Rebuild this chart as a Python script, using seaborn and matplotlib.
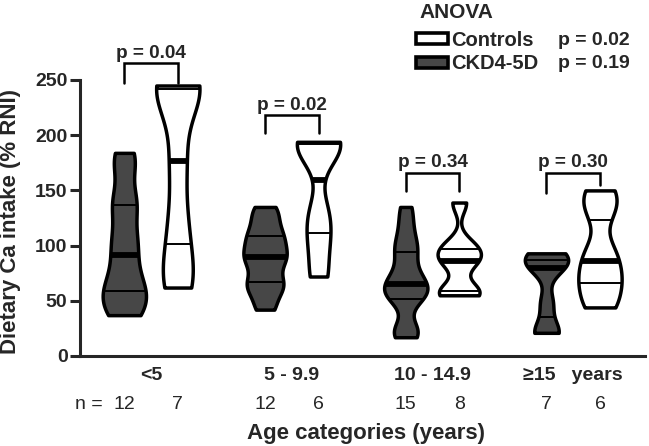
import numpy as np
import pandas as pd
import matplotlib
matplotlib.use("Agg")
import matplotlib.pyplot as plt
from matplotlib.patches import Patch
import seaborn as sns

# ---------- data (% RNI) ----------
age_groups = ["<5", "5 - 9.9", "10 - 14.9", "≥15   years"]
groups = ["CKD4-5D", "Controls"]

ckd_lt5 = [37, 42, 52, 61, 66, 84, 99, 112, 135, 143, 172, 184]
ckd_5_10 = [42, 55, 64, 68, 80, 88, 92, 100, 107, 114, 125, 135]
ckd_10_15 = [17, 21, 26, 50, 54, 58, 62, 65, 70, 78, 90, 98, 106, 120, 135]
ckd_ge15 = [21, 22, 48, 80, 85, 89, 93]

ctrl_lt5 = [62, 80, 122, 177, 240, 244, 245]
ctrl_5_10 = [72, 105, 130, 188, 193, 194]
ctrl_10_15 = [55, 57, 60, 84, 88, 96, 101, 139]
ctrl_ge15 = [44, 62, 77, 95, 132, 150]

ckd_values = [ckd_lt5, ckd_5_10, ckd_10_15, ckd_ge15]
ctrl_values = [ctrl_lt5, ctrl_5_10, ctrl_10_15, ctrl_ge15]

pair_p = ["p = 0.04", "p = 0.02", "p = 0.34", "p = 0.30"]
bracket_top = [265, 218, 166, 166]
bracket_left = [247, 202, 149, 148]
bracket_right = [247, 202, 149, 155]

anova_p = ["p = 0.02", "p = 0.19"]

gray = "#474747"
palette = {"CKD4-5D": gray, "Controls": "white"}

rows = []
for i, age in enumerate(age_groups):
    for v in ckd_values[i]:
        rows.append({"age": age, "group": "CKD4-5D", "intake": v})
    for v in ctrl_values[i]:
        rows.append({"age": age, "group": "Controls", "intake": v})
df = pd.DataFrame(rows)

sns.set_style("ticks")
plt.rcParams["font.family"] = ["Liberation Sans", "DejaVu Sans"]
plt.rcParams["font.weight"] = "bold"
plt.rcParams["axes.labelweight"] = "bold"

fig = plt.figure(figsize=(6.49, 4.46), dpi=100)
ax = fig.add_axes([80 / 649, 90 / 446, 565 / 649, 353.3 / 446])

sns.violinplot(data=df, x="age", y="intake", hue="group", order=age_groups,
               hue_order=groups, palette=palette, saturation=1, cut=0,
               inner=None, density_norm="width", bw_adjust=0.5, width=0.76,
               gap=0.19, linewidth=2.5, linecolor="black", legend=False, ax=ax)

# quartile lines, clipped to each violin body
for coll in list(ax.collections):
    path = coll.get_paths()[0]
    verts = path.vertices
    coll.set_joinstyle("round")
    xmid = (verts[:, 0].min() + verts[:, 0].max()) / 2
    cat = int(round(xmid))
    vals = (ckd_values if xmid < cat else ctrl_values)[cat]
    q1, med, q3 = np.percentile(vals, [25, 50, 75])
    for q, lw in ((q1, 1.4), (med, 4.2), (q3, 1.4)):
        ln, = ax.plot([verts[:, 0].min(), verts[:, 0].max()], [q, q],
                      color="black", lw=lw, solid_capstyle="butt", zorder=3)
        ln.set_clip_path(path, coll.get_transform())

# pairwise brackets
off = 0.19
for i, p in enumerate(pair_p):
    ax.plot([i - off, i - off, i + off, i + off],
            [bracket_left[i], bracket_top[i], bracket_top[i], bracket_right[i]],
            color="black", lw=1.8, solid_joinstyle="miter", clip_on=False)
    ax.text(i, bracket_top[i] + 1.5, p, ha="center", va="bottom", fontsize=13.7)

ax.set_xlim(-0.505, 3.51)
ax.set_ylim(0, 320)
ax.set_yticks([0, 50, 100, 150, 200, 250])
sns.despine(ax=ax)
ax.spines["left"].set_bounds(0, 250)
for s in ("left", "bottom"):
    ax.spines[s].set_linewidth(2.2)
ax.tick_params(axis="y", length=7, width=2.2, labelsize=14, pad=2)
ax.tick_params(axis="x", length=0, labelsize=14, pad=8)

ax.set_xlabel("Age categories (years)", fontsize=16)
ax.set_ylabel("Dietary Ca intake (% RNI)", fontsize=16)
ax.xaxis.set_label_coords(0.506, -0.19)
ax.yaxis.set_label_coords(-0.104, 0.382)

# n per group
ax.text(-0.54, -0.136, "n =", transform=ax.get_xaxis_transform(), ha="left",
        va="center", fontsize=14, fontweight="normal")
for i in range(len(age_groups)):
    for x, vals in ((i - off, ckd_values[i]), (i + off, ctrl_values[i])):
        ax.text(x, -0.136, str(len(vals)), transform=ax.get_xaxis_transform(),
                ha="center", va="center", fontsize=14, fontweight="normal")

# ANOVA legend
fig.text(419 / 649, 1 - 12 / 446, "ANOVA", ha="left", va="center", fontsize=15)
handles = [Patch(facecolor="white", edgecolor="black", linewidth=2.6, label="Controls"),
           Patch(facecolor=gray, edgecolor="black", linewidth=2.6, label="CKD4-5D")]
leg = ax.legend(handles=handles, loc="upper left",
                bbox_to_anchor=(416 / 649, 1 - 31 / 446), bbox_transform=fig.transFigure,
                frameon=False, prop={"size": 14.5, "weight": "bold"},
                handlelength=1.6, handleheight=0.45,
                handletextpad=0.15, labelspacing=0.22, borderpad=0, borderaxespad=0)

fig.canvas.draw()
for t, p in zip(leg.get_texts(), anova_p):
    bb = t.get_window_extent()
    yc = (bb.y0 + bb.y1) / 2 / fig.bbox.height
    fig.text(558 / 649, yc, p, ha="left", va="center", fontsize=14)

fig.savefig("out.png", dpi=100)
